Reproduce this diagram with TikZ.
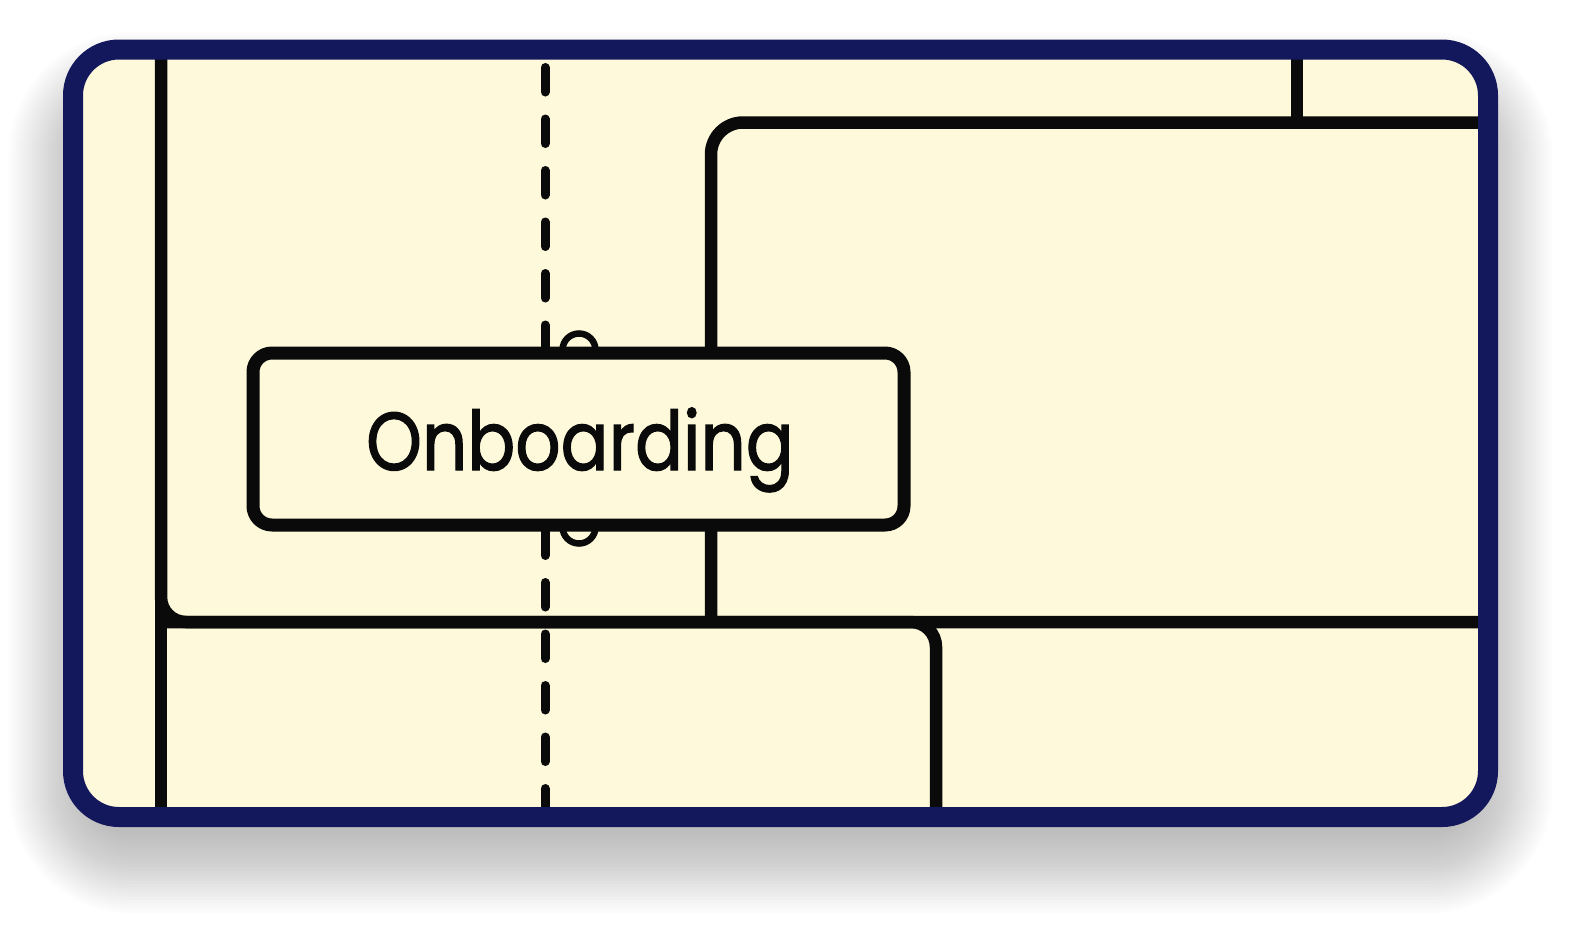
\documentclass[tikz,border=0pt]{standalone}
\usepackage{fontspec}
\newfontfamily\labelfont[FakeBold=1.6]{Poppins}
\definecolor{cream}{HTML}{FDF9DA}
\definecolor{navy}{HTML}{13175B}
\definecolor{ink}{HTML}{0A0A0A}
\begin{document}
\begin{tikzpicture}[x=1pt,y=-1pt,
  wire/.style={draw=ink, line width=12.5pt},
  dashwire/.style={draw=ink, line width=9pt, line cap=round, dash pattern=on 24.5pt off 27pt},
  port/.style={circle, draw=ink, line width=6.5pt, minimum size=33pt, inner sep=0pt},
  stagebox/.style={draw=ink, fill=cream, line width=13pt, rounded corners=19pt, minimum width=651pt, minimum height=172pt, inner sep=0pt},
  stagetext/.style={font=\labelfont\fontsize{82}{90}\selectfont, text=ink, inner sep=0pt, anchor=base},
  frame/.style={draw=navy, line width=20pt, rounded corners=46pt}]
\useasboundingbox (0,0) rectangle (1586,940);
% soft drop shadow
\foreach \i in {0,...,24}{
  \pgfmathsetmacro{\e}{-15+3.25*\i}
  \pgfmathsetmacro{\rr}{max(8,60+\e)}
  \fill[black, fill opacity=0.013, rounded corners=\rr pt] ({72-\e},{95-\e}) rectangle ({1489+\e},{850+\e});
}
% canvas
\begin{scope}
  \clip[rounded corners=46pt] (73,49.5) rectangle (1488,817);
  \fill[cream] (0,0) rectangle (1586,940);
  % named coordinates
  \coordinate (lTop) at (161,30);
  \coordinate (lBot) at (161,840);
  \coordinate (rLow) at (1510,622);
  \coordinate (lLow) at (161,622);
  \coordinate (dBot) at (936,840);
  \coordinate (mLow) at (711,622);
  \coordinate (rHigh) at (1510,122.5);
  \coordinate (tTop) at (1297,30);
  \coordinate (tJoin) at (1297,122.5);
  \coordinate (dashTop) at (545,67.5);
  \coordinate (dashBot) at (545,840);
  % connectors
  \draw[dashwire] (dashTop) -- (dashBot);
  \draw[wire] (lTop) -- (lBot);
  \draw[wire, rounded corners=25pt] (lTop) |- (rLow);
  \draw[wire, rounded corners=25pt] (lLow) -| (dBot);
  \draw[wire, rounded corners=32pt] (mLow) |- (rHigh);
  \draw[wire] (tTop) -- (tJoin);
  % ports
  \node[port] (portTop) at (579,350) {};
  \node[port] (portBot) at (579,527) {};
  % stage box
  \node[stagebox] (onb) at (578.5,439) {};
  \node[stagetext] (onbText) at (580,470) {\scalebox{0.865}[1]{Onboarding}};
\end{scope}
\draw[frame] (73,49.5) rectangle (1488,817);
\end{tikzpicture}
\end{document}
